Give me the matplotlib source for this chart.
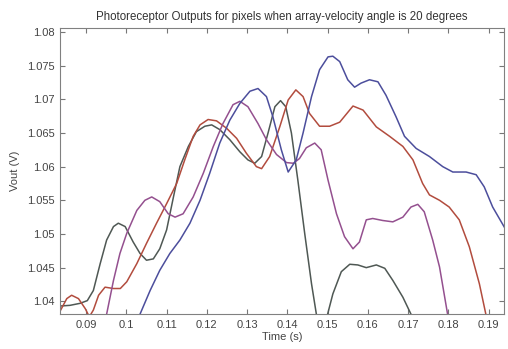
import matplotlib.pyplot as plt

# Time (s) / Vout (V), one pair of lists per pixel trace
t_gray = [0.0835, 0.0860, 0.0885, 0.0903, 0.0918, 0.0935, 0.0951, 0.0968, 0.0980, 0.0997,
          0.1017, 0.1034, 0.1050, 0.1067, 0.1083, 0.1100, 0.1117, 0.1133, 0.1154, 0.1174,
          0.1195, 0.1212, 0.1232, 0.1257, 0.1282, 0.1302, 0.1319, 0.1336, 0.1352, 0.1369,
          0.1383, 0.1396, 0.1410, 0.1426, 0.1443, 0.1460, 0.1472, 0.1486, 0.1500, 0.1513,
          0.1534, 0.1555, 0.1575, 0.1596, 0.1621, 0.1642, 0.1662, 0.1687, 0.1707, 0.1720]
v_gray = [1.0393, 1.0394, 1.0397, 1.0401, 1.0416, 1.0456, 1.0491, 1.0511, 1.0516, 1.0511,
          1.0488, 1.0471, 1.0461, 1.0463, 1.0478, 1.0506, 1.0555, 1.0600, 1.0630, 1.0652,
          1.0660, 1.0662, 1.0655, 1.0640, 1.0622, 1.0610, 1.0605, 1.0615, 1.0650, 1.0689,
          1.0698, 1.0689, 1.0650, 1.0580, 1.0501, 1.0426, 1.0381, 1.0350, 1.0381, 1.0411,
          1.0444, 1.0455, 1.0454, 1.0450, 1.0454, 1.0449, 1.0431, 1.0406, 1.0381, 1.0360]

t_red = [0.0835, 0.0852, 0.0864, 0.0881, 0.0898, 0.0908, 0.0918, 0.0931, 0.0947, 0.0968,
         0.0985, 0.1001, 0.1026, 0.1050, 0.1075, 0.1100, 0.1125, 0.1145, 0.1166, 0.1183,
         0.1203, 0.1224, 0.1249, 0.1274, 0.1298, 0.1323, 0.1336, 0.1356, 0.1381, 0.1402,
         0.1421, 0.1439, 0.1455, 0.1480, 0.1505, 0.1530, 0.1563, 0.1588, 0.1621, 0.1654,
         0.1687, 0.1712, 0.1736, 0.1753, 0.1778, 0.1802, 0.1827, 0.1852, 0.1877, 0.1893,
         0.1905]
v_red = [1.0385, 1.0404, 1.0409, 1.0404, 1.0389, 1.0377, 1.0387, 1.0409, 1.0421, 1.0419,
         1.0419, 1.0429, 1.0456, 1.0486, 1.0516, 1.0545, 1.0575, 1.0610, 1.0645, 1.0662,
         1.0670, 1.0668, 1.0657, 1.0642, 1.0620, 1.0600, 1.0597, 1.0615, 1.0659, 1.0699,
         1.0714, 1.0704, 1.0679, 1.0660, 1.0660, 1.0666, 1.0690, 1.0684, 1.0659, 1.0645,
         1.0630, 1.0610, 1.0575, 1.0558, 1.0550, 1.0540, 1.0521, 1.0481, 1.0426, 1.0381,
         1.0350]

t_purple = [0.0940, 0.0951, 0.0968, 0.0984, 0.1001, 0.1026, 0.1046, 0.1063, 0.1083, 0.1104,
            0.1121, 0.1141, 0.1166, 0.1191, 0.1216, 0.1240, 0.1265, 0.1282, 0.1302, 0.1327,
            0.1348, 0.1373, 0.1398, 0.1415, 0.1430, 0.1447, 0.1468, 0.1484, 0.1501, 0.1522,
            0.1542, 0.1563, 0.1579, 0.1596, 0.1612, 0.1637, 0.1662, 0.1687, 0.1707, 0.1724,
            0.1740, 0.1761, 0.1778, 0.1798, 0.1810]
v_purple = [1.0340, 1.0381, 1.0431, 1.0471, 1.0501, 1.0535, 1.0550, 1.0555, 1.0548, 1.0530,
            1.0525, 1.0530, 1.0555, 1.0590, 1.0630, 1.0664, 1.0692, 1.0697, 1.0689, 1.0664,
            1.0640, 1.0618, 1.0606, 1.0605, 1.0612, 1.0628, 1.0635, 1.0625, 1.0580, 1.0530,
            1.0496, 1.0478, 1.0488, 1.0521, 1.0523, 1.0520, 1.0518, 1.0525, 1.0540, 1.0544,
            1.0533, 1.0491, 1.0451, 1.0381, 1.0340]

t_blue = [0.1020, 0.1034, 0.1059, 0.1083, 0.1108, 0.1133, 0.1158, 0.1183, 0.1207, 0.1232,
          0.1257, 0.1282, 0.1307, 0.1327, 0.1348, 0.1364, 0.1385, 0.1402, 0.1422, 0.1439,
          0.1460, 0.1480, 0.1501, 0.1513, 0.1530, 0.1550, 0.1567, 0.1583, 0.1604, 0.1625,
          0.1645, 0.1670, 0.1691, 0.1720, 0.1753, 0.1786, 0.1811, 0.1844, 0.1869, 0.1889,
          0.1910, 0.1943]
v_blue = [1.0360, 1.0381, 1.0416, 1.0446, 1.0471, 1.0491, 1.0516, 1.0550, 1.0590, 1.0635,
          1.0669, 1.0694, 1.0712, 1.0716, 1.0704, 1.0674, 1.0625, 1.0592, 1.0610, 1.0650,
          1.0704, 1.0744, 1.0763, 1.0764, 1.0756, 1.0729, 1.0718, 1.0724, 1.0729, 1.0726,
          1.0706, 1.0674, 1.0645, 1.0627, 1.0615, 1.0600, 1.0592, 1.0592, 1.0588, 1.0570,
          1.0540, 1.0506]

x_ticks = [0.09, 0.10, 0.11, 0.12, 0.13, 0.14, 0.15, 0.16, 0.17, 0.18, 0.19]
x_labels = ['0.09', '0.1', '0.11', '0.12', '0.13', '0.14', '0.15', '0.16', '0.17', '0.18', '0.19']
y_ticks = [1.04, 1.045, 1.05, 1.055, 1.06, 1.065, 1.07, 1.075, 1.08]
y_labels = ['1.04', '1.045', '1.05', '1.055', '1.06', '1.065', '1.07', '1.075', '1.08']

plt.rcParams['font.family'] = ['Liberation Sans', 'DejaVu Sans']

fig = plt.figure(figsize=(5.08, 3.49), dpi=100)
ax = fig.add_axes([0.118, 0.100, 0.874, 0.820])

style = dict(lw=1.1, solid_joinstyle='round', solid_capstyle='round')
ax.plot(t_gray, v_gray, color='#4f5854', **style)
ax.plot(t_red, v_red, color='#b24c3e', **style)
ax.plot(t_purple, v_purple, color='#94508f', **style)
ax.plot(t_blue, v_blue, color='#4c4e9c', **style)

ax.set_xlim(0.0835, 0.1938)
ax.set_ylim(1.0381, 1.0806)
ax.set_xticks(x_ticks)
ax.set_xticklabels(x_labels)
ax.set_yticks(y_ticks)
ax.set_yticklabels(y_labels)
ax.tick_params(direction='in', length=3.5, width=0.8, colors='#777777',
               labelcolor='#444444', labelsize=8, top=True, right=True)
ax.tick_params(axis='x', pad=4)
for s in ax.spines.values():
    s.set_color('#808080')
    s.set_linewidth(0.8)

ax.set_xlabel('Time (s)', fontsize=8, color='#444444', labelpad=2)
ax.set_ylabel('Vout (V)', fontsize=8, color='#444444', labelpad=5)
ax.set_title('Photoreceptor Outputs for pixels when array-velocity angle is 20 degrees',
             fontsize=8.3, color='#333333', pad=6)

fig.savefig('out.png', dpi=100)
